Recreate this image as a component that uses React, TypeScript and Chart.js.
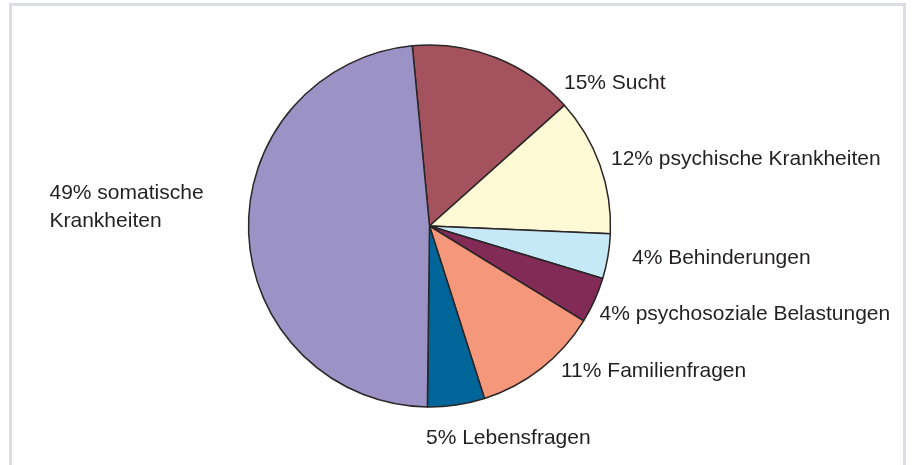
import React, { useEffect, useRef } from "react";
import { Chart, registerables } from "chart.js";

Chart.register(...registerables);

const categories = [
  "Sucht",
  "psychische Krankheiten",
  "Behinderungen",
  "psychosoziale Belastungen",
  "Familienfragen",
  "Lebensfragen",
  "somatische Krankheiten",
];
const shares = [14.9, 12.3, 4.0, 4.1, 11.3, 5.1, 48.3];
const pctLabels = ["15%", "12%", "4%", "4%", "11%", "5%", "49%"];
const sliceColors = ["#A3525E", "#FFF9D5", "#C6E9F8", "#822B56", "#F5977A", "#006699", "#9B93C6"];

// label placement (left x, first baseline) relative to pie centre, and line wrapping
const labelOffsets = [
  { dx: 134.5, dy: -137 },
  { dx: 181.5, dy: -61 },
  { dx: 202.5, dy: 38 },
  { dx: 170.0, dy: 94 },
  { dx: 131.5, dy: 150.5 },
  { dx: -3.5, dy: 218 },
  { dx: -380, dy: -27 },
];
const wrapAfterFirstWord = [false, false, false, false, false, false, true];

const FONT = '21px "Liberation Sans", Arial, Helvetica, sans-serif';

export default function App() {
  const ref = useRef<HTMLCanvasElement | null>(null);

  useEffect(() => {
    if (!ref.current) return;

    const framePlugin = {
      id: "frame",
      beforeDraw(chart: any) {
        const ctx = chart.ctx;
        ctx.save();
        ctx.fillStyle = "#ffffff";
        ctx.fillRect(0, 0, chart.width, chart.height);
        ctx.strokeStyle = "#DCDCE3";
        ctx.lineWidth = 3;
        ctx.beginPath();
        ctx.moveTo(10.5, chart.height);
        ctx.lineTo(10.5, 4.5);
        ctx.lineTo(904.5, 4.5);
        ctx.lineTo(904.5, chart.height);
        ctx.stroke();
        ctx.restore();
      },
    };

    const labelPlugin = {
      id: "sliceLabels",
      afterDatasetsDraw(chart: any) {
        const ctx = chart.ctx;
        const meta = chart.getDatasetMeta(0);
        ctx.save();
        ctx.font = FONT;
        ctx.fillStyle = "#231F20";
        ctx.textAlign = "left";
        ctx.textBaseline = "alphabetic";
        meta.data.forEach((arc: any, i: number) => {
          const full = `${pctLabels[i]} ${categories[i]}`;
          let lines = [full];
          if (wrapAfterFirstWord[i]) {
            const words = categories[i].split(" ");
            lines = [`${pctLabels[i]} ${words[0]}`, words.slice(1).join(" ")];
          }
          const x = arc.x + labelOffsets[i].dx;
          const y = arc.y + labelOffsets[i].dy;
          lines.forEach((ln, k) => ctx.fillText(ln, x, y + k * 27.5));
        });
        ctx.restore();
      },
    };

    const chart = new Chart(ref.current, {
      type: "pie",
      data: {
        labels: categories,
        datasets: [
          {
            data: shares,
            backgroundColor: sliceColors,
            borderColor: "#2A2526",
            borderWidth: 1.5,
          },
        ],
      },
      options: {
        animation: false,
        responsive: false,
        rotation: -5.45,
        radius: 181,
        layout: { padding: { left: 0, right: 56, top: 0, bottom: 13 } },
        plugins: {
          legend: { display: false },
          tooltip: { enabled: false },
          title: { display: false },
        },
      },
      plugins: [framePlugin, labelPlugin],
    });
    return () => chart.destroy();
  }, []);

  return (
    <div style={{ position: "absolute", left: 0, top: 0, width: 915, height: 465, background: "#fff" }}>
      <canvas ref={ref} width={915} height={465} style={{ display: "block", width: 915, height: 465 }} />
    </div>
  );
}
